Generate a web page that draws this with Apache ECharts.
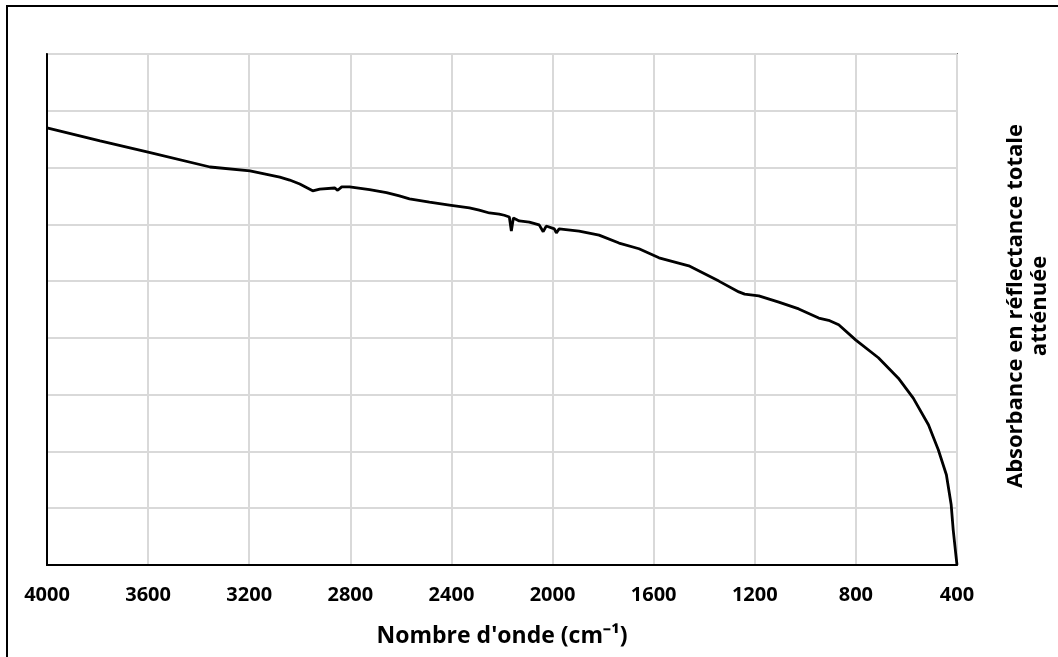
<!DOCTYPE html>
<html>
<head>
<meta charset="utf-8">
<script src="https://cdn.jsdelivr.net/npm/echarts@6/dist/echarts.min.js"></script>
<style>
html,body{margin:0;padding:0;background:#fff;}
#chart{width:1058px;height:657px;}
</style>
</head>
<body>
<div id="chart"></div>
<script>
// Wavenumber (cm-1) and absorbance (arbitrary units)
const wavenumbers = [4000,3790,3600,3355,3197,3079,3040,3000,2949,2921,2862,2850,2834,2803,2724,2657,2606,2566,2487,2408,2329,2290,2250,2211,2191,2171,2163,2155,2132,2092,2053,2037,2025,1993,1985,1974,1895,1816,1737,1658,1579,1461,1342,1263,1240,1184,1105,1026,947,908,868,800,711,632,573,513,474,442,423,415,405,400];
const absorbance = [7.70,7.47,7.27,7.01,6.94,6.83,6.78,6.71,6.59,6.62,6.64,6.60,6.66,6.66,6.61,6.56,6.50,6.45,6.39,6.34,6.29,6.25,6.20,6.18,6.16,6.13,5.88,6.11,6.06,6.04,5.99,5.87,5.97,5.92,5.85,5.92,5.88,5.81,5.67,5.57,5.41,5.27,5.00,4.81,4.77,4.74,4.63,4.51,4.35,4.31,4.23,3.96,3.65,3.29,2.94,2.47,2.03,1.59,1.06,0.62,0.20,0];
const xTicks = [4000,3600,3200,2800,2400,2000,1600,1200,800,400];
const xTitle = "Nombre d'onde (cm\u207B\u00B9)";
const yTitle = "Absorbance en réflectance totale\natténuée";

const chart = echarts.init(document.getElementById('chart'));
const font = "'Open Sans', 'Liberation Sans', sans-serif";
chart.setOption({
  animation: false,
  backgroundColor: '#fff',
  grid: {left: 47, top: 54, right: 101, bottom: 92, show: true, borderColor: '#000', borderWidth: 1.5, containLabel: false},
  xAxis: {
    type: 'value', min: 400, max: 4000, interval: 400, inverse: true,
    axisLine: {show: true, lineStyle: {color: '#000', width: 2}},
    axisTick: {show: false},
    axisLabel: {color: '#000', fontFamily: font, fontWeight: 'bold', fontSize: 20, margin: 20,
      formatter: v => xTicks.includes(v) ? String(v) : ''},
    splitLine: {show: true, lineStyle: {color: '#d9d9d9', width: 2}},
    name: xTitle, nameLocation: 'middle', nameGap: 60,
    nameTextStyle: {color: '#000', fontFamily: font, fontWeight: 'bold', fontSize: 23}
  },
  yAxis: {
    type: 'value', min: 0, max: 9, interval: 1,
    axisLine: {show: true, lineStyle: {color: '#000', width: 2}},
    axisTick: {show: false},
    axisLabel: {show: false},
    splitLine: {show: true, lineStyle: {color: '#d9d9d9', width: 2}}
  },
  series: [{
    type: 'line', data: wavenumbers.map((w, i) => [w, absorbance[i]]),
    showSymbol: false, symbol: 'none',
    lineStyle: {color: '#000', width: 2.8}, clip: true
  }],
  graphic: [
    {type: 'rect', shape: {x: 7, y: 6, width: 1200, height: 800}, style: {fill: 'none', stroke: '#000', lineWidth: 2}, silent: true},
    {type: 'text', x: 1028, y: 306, rotation: Math.PI / 2,
     style: {text: yTitle, fill: '#000', font: 'bold 22px ' + font, textAlign: 'center', textVerticalAlign: 'middle', lineHeight: 24}}
  ]
});
</script>
</body>
</html>
